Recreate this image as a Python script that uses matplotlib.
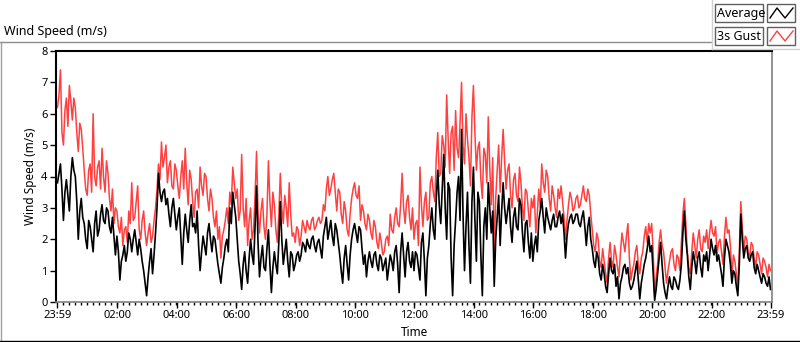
import numpy as np
import matplotlib
matplotlib.use('Agg')
import matplotlib.pyplot as plt
from matplotlib.lines import Line2D
from matplotlib.patches import Rectangle

plt.rcParams['font.family'] = ['Noto Sans', 'DejaVu Sans']

# one reading every 3 minutes, starting at 23:59 (20 per row = 1 hour)
step_min = 3
gust = [
    6.2, 6.6, 7.4, 5.4, 5.0, 6.1, 6.5, 5.6, 6.9, 6.4, 5.8, 6.5, 6.2, 5.4, 4.8, 5.7, 5.5, 4.9, 4.2, 3.6,
    3.4, 4.2, 4.4, 3.5, 6.0, 4.0, 3.7, 4.3, 4.5, 3.6, 4.9, 4.0, 3.5, 4.5, 4.1, 3.3, 2.9, 3.6, 2.5, 3.0,
    2.9, 2.4, 2.2, 2.7, 1.8, 2.3, 2.4, 1.9, 2.9, 2.5, 3.8, 2.6, 2.7, 3.2, 3.7, 2.3, 2.0, 2.6, 2.9, 2.2,
    1.8, 2.2, 2.5, 1.9, 2.1, 2.6, 3.0, 3.6, 4.4, 3.9, 5.1, 4.3, 4.6, 5.0, 3.8, 4.3, 4.5, 3.7, 3.6, 4.4,
    4.2, 3.7, 3.3, 4.0, 4.5, 3.6, 4.9, 3.8, 3.1, 4.2, 3.9, 3.2, 2.7, 3.5, 3.6, 3.0, 4.3, 3.7, 3.4, 4.1,
    4.0, 3.3, 2.9, 3.6, 3.3, 2.7, 2.4, 2.9, 2.0, 2.4, 1.4, 2.1, 2.3, 2.6, 3.0, 2.5, 3.5, 3.1, 4.3, 3.8,
    3.3, 3.6, 2.6, 2.9, 4.7, 3.0, 2.4, 3.3, 1.8, 2.6, 3.0, 2.0, 2.3, 3.4, 4.8, 2.9, 2.2, 2.9, 3.3, 2.4,
    2.0, 2.8, 4.5, 3.2, 2.4, 3.5, 3.1, 2.3, 1.9, 2.8, 4.1, 3.0, 2.5, 3.4, 3.0, 2.4, 3.8, 2.8, 2.1, 2.2,
    1.9, 2.4, 2.3, 1.8, 2.1, 2.6, 2.4, 2.2, 2.6, 2.4, 2.3, 2.6, 2.7, 2.3, 2.4, 2.6, 2.7, 2.5, 2.6, 3.1,
    2.9, 3.6, 4.0, 3.4, 3.6, 3.9, 4.1, 3.5, 2.9, 3.6, 3.5, 2.8, 2.5, 3.2, 2.9, 2.3, 2.1, 2.8, 3.3, 3.6,
    3.8, 3.4, 3.3, 3.7, 2.6, 3.1, 2.9, 2.5, 2.3, 2.8, 2.6, 2.2, 2.0, 2.6, 2.4, 1.9, 1.7, 2.2, 1.9, 1.5,
    1.6, 2.0, 2.1, 1.8, 2.8, 2.3, 2.2, 2.7, 3.0, 2.5, 2.4, 3.1, 4.1, 3.0, 2.5, 3.2, 3.4, 2.7, 2.3, 3.0,
    2.0, 2.5, 2.6, 1.8, 4.3, 3.1, 2.4, 3.2, 3.5, 2.6, 2.7, 3.8, 4.0, 3.5, 3.2, 4.6, 5.4, 4.0, 4.1, 5.3,
    5.0, 4.3, 6.6, 5.2, 4.1, 5.4, 5.6, 4.2, 6.1, 4.9, 4.6, 5.7, 7.0, 5.0, 4.4, 6.0, 5.2, 4.6, 3.7, 5.9,
    6.9, 5.4, 4.2, 4.9, 5.1, 3.9, 3.3, 4.9, 4.7, 3.8, 5.9, 4.3, 3.1, 4.6, 1.5, 3.3, 4.2, 5.0, 3.5, 4.6,
    5.5, 4.5, 3.6, 4.2, 4.4, 3.4, 3.0, 3.9, 4.1, 3.4, 3.2, 4.3, 3.8, 3.0, 2.6, 3.6, 3.5, 2.9, 2.4, 3.3,
    3.0, 3.4, 2.2, 2.8, 3.6, 3.0, 4.4, 3.8, 3.5, 4.2, 4.0, 3.3, 2.9, 3.7, 3.4, 3.0, 2.7, 3.6, 3.3, 3.7,
    3.2, 2.7, 2.0, 2.6, 3.1, 3.5, 3.3, 2.9, 3.0, 3.3, 3.4, 3.0, 3.1, 3.4, 3.7, 3.3, 3.2, 3.6, 3.4, 2.8,
    2.3, 1.8, 1.6, 2.2, 2.0, 1.3, 1.1, 1.7, 1.3, 0.9, 0.6, 1.4, 1.9, 1.3, 1.1, 1.8, 1.5, 1.1, 0.8, 1.6,
    2.2, 1.9, 1.6, 2.1, 2.5, 1.4, 0.7, 1.0, 1.2, 1.6, 1.8, 1.2, 0.9, 1.4, 1.6, 2.1, 2.4, 1.9, 2.5, 2.2,
    2.5, 1.6, 0.2, 0.8, 1.2, 1.9, 2.3, 1.8, 1.6, 1.1, 0.6, 1.0, 1.3, 1.6, 1.7, 1.2, 1.0, 1.5, 1.4, 1.0,
    1.9, 2.8, 3.3, 2.5, 1.6, 1.1, 0.9, 1.6, 2.2, 1.8, 1.4, 2.0, 2.3, 1.7, 1.6, 2.1, 1.9, 2.3, 1.7, 2.2,
    2.6, 2.2, 2.1, 2.4, 1.5, 1.9, 2.0, 1.6, 1.2, 2.1, 2.7, 2.2, 2.3, 1.8, 0.8, 1.5, 1.3, 0.9, 0.5, 1.6,
    3.2, 2.4, 1.6, 2.1, 2.0, 1.6, 1.4, 1.9, 1.8, 1.4, 1.1, 1.6, 1.5, 1.2, 0.9, 1.4, 1.3, 1.1, 0.8, 1.2,
    1.0,
]
average = [
    3.8, 4.1, 4.4, 3.6, 2.6, 3.5, 3.9, 3.4, 2.9, 4.0, 4.6, 4.2, 4.0, 3.2, 2.0, 2.9, 3.3, 2.7, 2.5, 2.0,
    1.7, 2.6, 2.4, 2.0, 1.6, 2.5, 2.9, 2.1, 2.3, 2.8, 3.1, 2.6, 2.5, 3.0, 2.9, 2.4, 2.2, 2.7, 2.1, 1.5,
    2.1, 1.6, 0.7, 1.3, 1.5, 1.8, 1.3, 1.6, 2.2, 2.0, 1.6, 2.0, 2.3, 1.9, 1.5, 2.0, 1.7, 1.3, 1.0, 0.6,
    0.2, 0.8, 1.3, 1.7, 0.9, 1.5, 2.2, 3.0, 4.1, 3.5, 3.2, 3.5, 3.6, 3.1, 3.3, 2.8, 2.4, 3.0, 3.3, 2.8,
    2.3, 2.7, 3.0, 2.1, 1.2, 2.2, 2.8, 2.3, 1.9, 2.6, 3.1, 2.4, 2.5, 2.2, 2.9, 1.8, 1.0, 1.6, 2.1, 1.8,
    1.5, 2.2, 2.5, 2.0, 1.6, 2.1, 2.0, 1.6, 1.2, 0.9, 0.6, 1.1, 1.4, 1.8, 2.0, 1.6, 3.0, 2.5, 3.5, 3.1,
    2.7, 2.0, 1.3, 0.9, 0.4, 1.2, 1.6, 1.0, 0.6, 1.4, 2.0, 1.5, 1.2, 2.4, 3.7, 1.9, 0.8, 1.4, 1.8, 1.1,
    1.0, 1.7, 2.3, 1.2, 0.3, 1.1, 1.6, 1.2, 0.9, 1.9, 3.2, 2.0, 1.2, 1.6, 2.0, 1.3, 0.8, 1.6, 1.5, 1.0,
    1.2, 1.5, 1.6, 1.3, 1.5, 1.9, 1.8, 1.6, 2.0, 1.8, 1.7, 2.0, 2.1, 1.8, 1.6, 1.9, 2.0, 1.7, 1.4, 2.1,
    2.4, 2.7, 2.0, 2.3, 2.6, 2.1, 1.8, 2.5, 2.3, 1.9, 1.5, 1.0, 0.6, 1.4, 1.8, 1.2, 0.7, 1.5, 2.0, 2.3,
    2.5, 2.2, 1.9, 2.4, 2.3, 1.7, 1.2, 1.5, 0.8, 1.3, 1.6, 1.3, 1.1, 1.5, 1.6, 1.2, 1.0, 1.5, 1.4, 1.0,
    1.2, 1.4, 0.7, 1.1, 1.5, 1.3, 1.0, 1.6, 1.8, 1.2, 0.3, 1.6, 2.2, 1.5, 0.8, 1.6, 1.9, 1.3, 1.1, 1.6,
    1.0, 1.6, 1.5, 1.1, 0.7, 1.9, 2.2, 1.3, 0.2, 1.4, 1.8, 2.5, 3.0, 2.3, 2.0, 3.3, 4.2, 3.1, 2.5, 3.6,
    4.7, 3.0, 2.0, 3.8, 3.6, 1.4, 0.2, 1.8, 2.6, 3.5, 4.0, 2.6, 5.5, 2.8, 1.0, 2.4, 3.5, 1.8, 0.6, 3.2,
    4.3, 2.6, 1.3, 3.5, 3.2, 1.5, 0.2, 2.4, 3.0, 2.0, 3.8, 3.0, 2.2, 2.9, 0.5, 2.0, 2.7, 3.4, 1.8, 2.9,
    3.8, 3.0, 2.5, 2.9, 3.3, 2.4, 1.9, 2.7, 3.0, 2.4, 2.3, 3.3, 3.1, 2.2, 1.6, 2.5, 2.6, 1.9, 1.4, 2.2,
    1.3, 1.8, 2.1, 1.6, 2.6, 2.9, 3.3, 2.7, 2.2, 3.0, 2.7, 2.5, 2.3, 2.6, 2.8, 2.4, 2.4, 2.7, 2.9, 2.5,
    2.8, 2.2, 1.4, 2.1, 2.5, 2.7, 2.8, 2.5, 2.6, 2.8, 2.8, 2.5, 2.4, 2.7, 2.9, 2.4, 1.8, 2.4, 2.7, 2.0,
    1.7, 1.3, 1.1, 1.6, 1.4, 0.9, 0.7, 1.2, 0.9, 0.5, 0.3, 0.9, 1.4, 1.0, 0.9, 1.2, 0.5, 0.8, 0.1, 0.6,
    0.8, 1.1, 1.2, 0.9, 1.1, 0.6, 0.4, 0.5, 0.7, 1.0, 1.3, 0.7, 0.1, 0.6, 0.9, 1.2, 1.4, 1.7, 2.1, 1.6,
    1.8, 0.9, 0.05, 0.4, 0.9, 1.4, 1.9, 1.2, 0.6, 0.3, 0.1, 0.5, 0.8, 0.5, 0.4, 0.8, 0.7, 0.5, 0.4, 0.7,
    1.2, 2.2, 2.9, 2.0, 1.5, 0.8, 0.4, 1.1, 1.6, 1.3, 0.9, 1.4, 1.6, 1.1, 0.8, 1.5, 1.3, 1.6, 1.0, 1.5,
    2.0, 1.7, 1.5, 1.8, 1.3, 1.5, 1.2, 0.9, 0.5, 1.4, 2.0, 1.8, 1.6, 1.2, 0.6, 1.0, 0.9, 0.5, 0.2, 1.2,
    2.8, 2.0, 1.4, 1.7, 1.8, 1.4, 1.3, 1.5, 1.6, 1.1, 0.9, 1.2, 1.0, 0.8, 0.6, 0.9, 0.8, 0.6, 0.5, 0.8,
    0.4,
]
tick_minutes = [0, 121, 241, 361, 481, 601, 721, 841, 961, 1081, 1201, 1321, 1440]
tick_labels = ['23:59', '02:00', '04:00', '06:00', '08:00', '10:00', '12:00',
               '14:00', '16:00', '18:00', '20:00', '22:00', '23:59']
series_names = ['Average', '3s Gust']
series_colors = ['#000000', '#ff4040']

W, H = 800, 342


def fxy(x, y):
    # pixel (from top-left) -> figure fraction
    return x / W, 1 - y / H


fig = plt.figure(figsize=(W / 100, H / 100), dpi=100)
ax = fig.add_axes([56 / W, 40 / H, (772 - 56) / W, (302 - 51) / H])

minutes = np.arange(len(gust)) * step_min
ax.plot(minutes, gust, color=series_colors[1], lw=1.1)
ax.plot(minutes, average, color=series_colors[0], lw=1.2)

ax.set_xlim(-3, 1443)
ax.set_ylim(0, 8)
ax.set_xticks(tick_minutes)
ax.set_xticklabels(tick_labels)
ax.set_xticks(np.arange(0, 1441, 12), minor=True)
ax.set_yticks(range(0, 9))

ax.tick_params(axis='both', which='major', direction='out', length=4, width=1,
               labelsize=8, pad=2, colors='#000000')
ax.tick_params(axis='x', which='minor', direction='out', length=2.5, width=1)
ax.set_xlabel('Time', fontsize=8.5, labelpad=3)
ax.set_ylabel('Wind Speed (m/s)', fontsize=8.5, labelpad=3)

for side in ['left', 'top']:
    ax.spines[side].set_color('#000000')
    ax.spines[side].set_linewidth(1.5)
for side in ['right', 'bottom']:
    ax.spines[side].set_color('#808080')
    ax.spines[side].set_linewidth(1.2)

# chart title
fig.text(*fxy(4, 31), 'Wind Speed (m/s)', fontsize=9, va='center', ha='left')

# outer panel frame
frame = [([0, 711], [42, 42], '#8c8c8c'),
         ([0.5, 0.5], [42, 341], '#a0a0a0'),
         ([0, 800], [341, 341], '#000000'),
         ([712, 712], [0, 49], '#d0d0d0'),
         ([712, 800], [49, 49], '#d0d0d0')]
for xs, ys, c in frame:
    pts = [fxy(x, y) for x, y in zip(xs, ys)]
    fig.add_artist(Line2D([p[0] for p in pts], [p[1] for p in pts],
                          color=c, lw=1, transform=fig.transFigure))

# legend boxes
for i, (name, col) in enumerate(zip(series_names, series_colors)):
    top = 4 + 23 * i
    x0, y0 = fxy(715, top + 18)
    fig.add_artist(Rectangle((x0, y0), 48 / W, 18 / H, facecolor='white',
                             edgecolor='#606060', lw=1, transform=fig.transFigure))
    fig.text(*fxy(717, top + 9), name, fontsize=9, va='center', ha='left')
    x1, y1 = fxy(767, top + 18)
    fig.add_artist(Rectangle((x1, y1), 28 / W, 18 / H, facecolor='white',
                             edgecolor='#606060', lw=1, transform=fig.transFigure))
    zx = [770, 777, 785, 793]
    zy = [top + 14, top + 4, top + 14, top + 4]
    pts = [fxy(x, y) for x, y in zip(zx, zy)]
    fig.add_artist(Line2D([p[0] for p in pts], [p[1] for p in pts],
                          color=col, lw=1, transform=fig.transFigure))

fig.savefig('out.png', dpi=100)
